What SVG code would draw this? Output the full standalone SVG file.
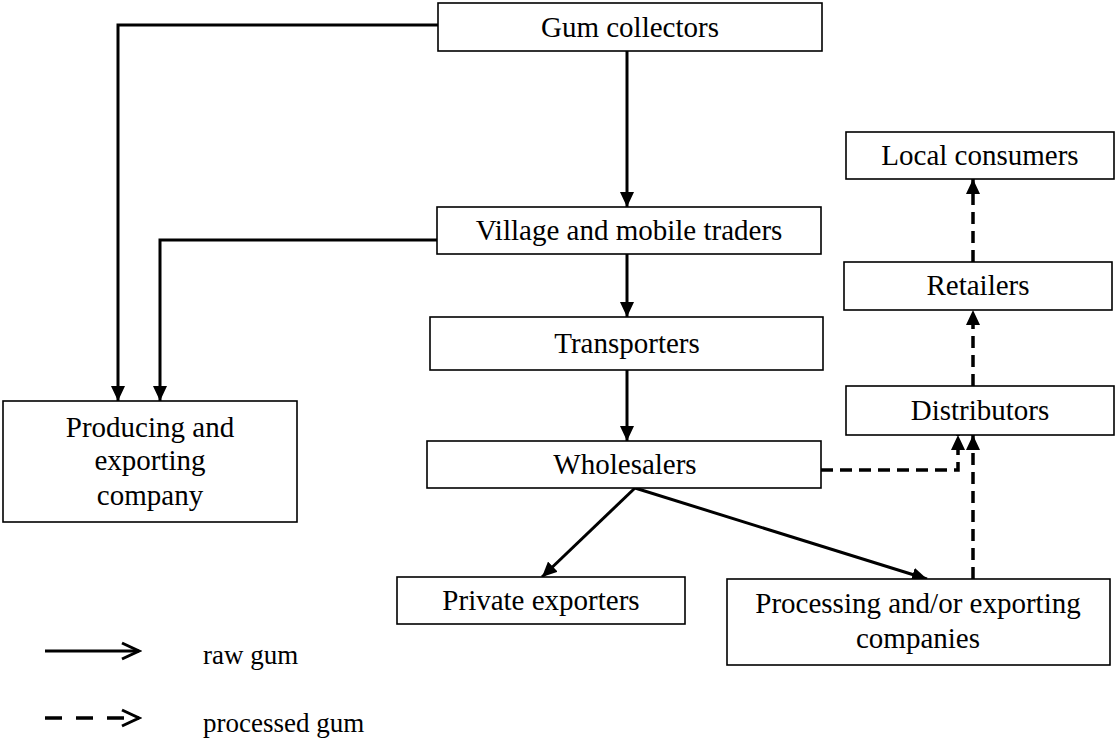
<svg xmlns="http://www.w3.org/2000/svg" width="1117" height="742" viewBox="0 0 1117 742">
<defs>
<style>
.box{fill:#fff;stroke:#000;stroke-width:1.6}
.t{font-family:"Liberation Serif","Times New Roman",serif;font-size:29px;fill:#000;text-anchor:middle}
.lt{font-family:"Liberation Serif","Times New Roman",serif;font-size:27px;fill:#000}
.s{fill:none;stroke:#000;stroke-width:3}
.d{fill:none;stroke:#000;stroke-width:3.5;stroke-dasharray:12 7}
</style>
<marker id="ah" markerWidth="15" markerHeight="14" refX="15" refY="7" orient="auto" markerUnits="userSpaceOnUse">
<path d="M0,0 L15,7 L0,14 Z" fill="#000"/>
</marker>
<marker id="open" markerWidth="22" markerHeight="20" refX="19" refY="10" orient="auto" markerUnits="userSpaceOnUse">
<path d="M2,2 L19,10 L2,18" fill="none" stroke="#000" stroke-width="3"/>
</marker>
</defs>
<rect width="1117" height="742" fill="#fff"/>
<g id="connectors">
<polyline class="s" points="438,25 118,25 118,401" marker-end="url(#ah)"/>
<polyline class="s" points="437,240 160,240 160,401" marker-end="url(#ah)"/>
<line class="s" x1="627" y1="51" x2="627" y2="207" marker-end="url(#ah)"/>
<line class="s" x1="627" y1="254" x2="627" y2="317" marker-end="url(#ah)"/>
<line class="s" x1="627" y1="370" x2="627" y2="441" marker-end="url(#ah)"/>
<line class="s" x1="635" y1="488" x2="542" y2="577" marker-end="url(#ah)"/>
<line class="s" x1="635" y1="488" x2="927" y2="579" marker-end="url(#ah)"/>
<polyline class="d" points="821,470 958,470 958,435" marker-end="url(#ah)"/>
<line class="d" x1="973" y1="579" x2="973" y2="435" marker-end="url(#ah)"/>
<line class="d" x1="973" y1="386" x2="973" y2="310" marker-end="url(#ah)"/>
<line class="d" x1="973" y1="262" x2="973" y2="179" marker-end="url(#ah)"/>
</g>
<g id="gum-collectors"><rect class="box" x="438" y="3" width="384" height="48"/><text class="t" x="630" y="37">Gum collectors</text></g>
<g id="village-traders"><rect class="box" x="437" y="207" width="384" height="47"/><text class="t" x="629" y="240">Village and mobile traders</text></g>
<g id="transporters"><rect class="box" x="430" y="317" width="393" height="53"/><text class="t" x="627" y="353">Transporters</text></g>
<g id="wholesalers"><rect class="box" x="427" y="441" width="394" height="47"/><text class="t" x="625" y="474">Wholesalers</text></g>
<g id="private-exporters"><rect class="box" x="397" y="577" width="288" height="47"/><text class="t" x="541" y="610">Private exporters</text></g>
<g id="processing-companies"><rect class="box" x="727" y="579" width="383" height="86"/><text class="t" x="918" y="613">Processing and/or exporting</text><text class="t" x="918" y="648">companies</text></g>
<g id="producing-company"><rect class="box" x="3" y="401" width="294" height="121"/><text class="t" x="150" y="437">Producing and</text><text class="t" x="150" y="470">exporting</text><text class="t" x="150" y="505">company</text></g>
<g id="local-consumers"><rect class="box" x="846" y="132" width="268" height="47"/><text class="t" x="980" y="165">Local consumers</text></g>
<g id="retailers"><rect class="box" x="844" y="262" width="268" height="48"/><text class="t" x="978" y="295">Retailers</text></g>
<g id="distributors"><rect class="box" x="846" y="386" width="268" height="49"/><text class="t" x="980" y="420">Distributors</text></g>
<g id="legend">
<line class="s" x1="45" y1="651" x2="139" y2="651" marker-end="url(#open)"/>
<line class="d" x1="45" y1="718" x2="139" y2="718" style="stroke-dasharray:17 14" marker-end="url(#open)"/>
<text class="lt" x="203" y="664">raw gum</text>
<text class="lt" x="203" y="732">processed gum</text>
</g>
</svg>
